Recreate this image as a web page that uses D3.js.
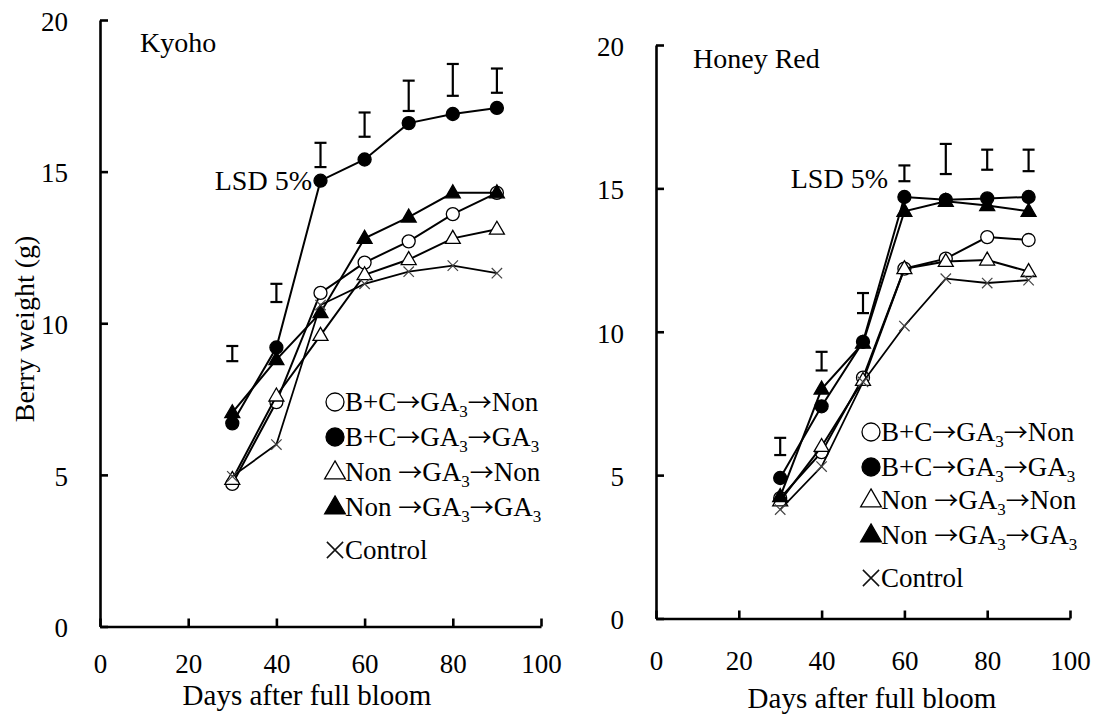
<!DOCTYPE html>
<html>
<head>
<meta charset="utf-8">
<script src="https://cdn.jsdelivr.net/npm/d3@7"></script>
<style>
  body { margin: 0; background: #fff; }
  svg { display: block; }
</style>
</head>
<body>
<svg id="chart" width="1096" height="716"></svg>
<script>
// days after full bloom
const days = [30, 40, 50, 60, 70, 80, 90];
const xTicks = [0, 20, 40, 60, 80, 100];
const yTicks = [0, 5, 10, 15, 20];

const seriesLabels = ["B+C→GA3→Non", "B+C→GA3→GA3", "Non →GA3→Non", "Non →GA3→GA3", "Control"];
const seriesMarkers = ["circleOpen", "circleFilled", "triOpen", "triFilled", "cross"];

// Kyoho berry weight (g)
const kyohoBcNon = [4.7, 7.4, 11.0, 12.0, 12.7, 13.6, 14.3];
const kyohoBcGa = [6.7, 9.2, 14.7, 15.4, 16.6, 16.9, 17.1];
const kyohoNonNon = [4.85, 7.6, 9.6, 11.6, 12.1, 12.8, 13.1];
const kyohoNonGa = [7.05, 8.8, 10.35, 12.8, 13.5, 14.3, 14.3];
const kyohoControl = [4.95, 6.0, 10.6, 11.3, 11.7, 11.9, 11.65];
const kyohoLsdLow = [8.75, 10.7, 15.15, 16.15, 17.0, 17.5, 17.6];
const kyohoLsdHigh = [9.25, 11.3, 15.95, 16.95, 18.0, 18.55, 18.4];

// Honey Red berry weight (g)
const honeyBcNon = [4.2, 5.8, 8.4, 12.2, 12.55, 13.3, 13.2];
const honeyBcGa = [4.9, 7.4, 9.65, 14.7, 14.6, 14.65, 14.7];
const honeyNonNon = [4.1, 6.0, 8.3, 12.2, 12.45, 12.5, 12.1];
const honeyNonGa = [4.25, 8.0, 9.6, 14.2, 14.55, 14.4, 14.2];
const honeyControl = [3.8, 5.3, 8.25, 10.2, 11.85, 11.7, 11.8];
const honeyLsdLow = [5.7, 8.65, 10.65, 15.25, 15.5, 15.65, 15.6];
const honeyLsdHigh = [6.3, 9.3, 11.35, 15.8, 16.55, 16.35, 16.35];

const SERIF = "Liberation Serif";
const ARROW = "Noto Sans CJK JP";
const svg = d3.select("#chart");

function markerPath(type, r) {
  if (type === "triOpen" || type === "triFilled") {
    const h = r * Math.sqrt(3);
    return `M0,${-h * 2 / 3}L${r},${h / 3}L${-r},${h / 3}Z`;
  }
  if (type === "cross") {
    return `M${-r},${-r}L${r},${r}M${-r},${r}L${r},${-r}`;
  }
  return null;
}

function drawMarker(g, type, x, y, size, legend) {
  if (type === "circleOpen" || type === "circleFilled") {
    g.append("circle")
      .attr("cx", x).attr("cy", y).attr("r", size)
      .attr("fill", type === "circleOpen" ? "#fff" : "#000")
      .attr("stroke", "#000").attr("stroke-width", 1.3);
  } else if (type === "cross") {
    g.append("path")
      .attr("transform", `translate(${x},${y})`)
      .attr("d", markerPath(type, size * (legend ? 0.9 : 0.8)))
      .attr("fill", "none")
      .attr("stroke", legend ? "#111" : "#444")
      .attr("stroke-width", legend ? 1.5 : 1.2);
  } else {
    g.append("path")
      .attr("transform", `translate(${x},${y + size * 0.1})`)
      .attr("d", markerPath(type, size * 1.15))
      .attr("fill", type === "triOpen" ? "#fff" : "#000")
      .attr("stroke", "#000").attr("stroke-width", 1.3);
  }
}

// legend text: arrows from a CJK font, the 3 after GA as subscript
function addLabel(textSel, label) {
  const tokens = label.split(/(→|(?<=GA)3)/).filter(t => t !== "");
  let lowered = false;
  tokens.forEach(tok => {
    const ts = textSel.append("tspan").text(tok);
    if (tok === "3") {
      ts.attr("font-size", 17).attr("dy", 6);
      lowered = true;
      return;
    }
    if (lowered) { ts.attr("dy", -6); lowered = false; }
    if (tok === "→") ts.style("font-family", ARROW).attr("font-size", 24);
  });
}

function drawPanel(cfg) {
  const g = svg.append("g");
  const x = d3.scaleLinear().domain([0, 100]).range([cfg.left, cfg.right]);
  const y = d3.scaleLinear().domain([0, 20]).range([cfg.bottom, cfg.top]);

  const xAxis = g.append("g")
    .attr("transform", `translate(0,${cfg.bottom})`)
    .call(d3.axisBottom(x).tickValues(xTicks).tickSizeInner(-8).tickSizeOuter(0).tickPadding(cfg.xPad));
  const yAxis = g.append("g")
    .attr("transform", `translate(${cfg.left},0)`)
    .call(d3.axisLeft(y).tickValues(yTicks).tickSizeInner(-8).tickSizeOuter(0).tickPadding(32));

  [xAxis, yAxis].forEach(a => {
    a.attr("font-size", 27);
    a.selectAll("path, line").attr("stroke", "#000").attr("stroke-width", 2.6);
    a.selectAll("text").attr("fill", "#000").style("font-family", SERIF);
  });
  yAxis.selectAll("text").attr("dy", "0.38em");

  // axis titles
  g.append("text")
    .attr("x", cfg.xTitleX).attr("y", cfg.xTitleY)
    .attr("text-anchor", "middle").attr("font-size", 29)
    .style("font-family", SERIF)
    .text("Days after full bloom");
  if (cfg.yTitle) {
    g.append("text")
      .attr("transform", `translate(34,329) rotate(-90)`)
      .attr("text-anchor", "middle").attr("font-size", 28)
      .style("font-family", SERIF)
      .text(cfg.yTitle);
  }

  g.append("text").attr("x", cfg.nameX).attr("y", cfg.nameY)
    .attr("font-size", 28).style("font-family", SERIF).text(cfg.name);
  g.append("text").attr("x", cfg.lsdX).attr("y", cfg.lsdY)
    .attr("text-anchor", "end").attr("font-size", 28).style("font-family", SERIF).text("LSD 5%");

  // LSD bars
  const bars = g.append("g").attr("stroke", "#000").attr("stroke-width", 2.2);
  days.forEach((d, i) => {
    const cx = x(d), y0 = y(cfg.lsdLow[i]), y1 = y(cfg.lsdHigh[i]);
    bars.append("line").attr("x1", cx).attr("x2", cx).attr("y1", y0).attr("y2", y1);
    bars.append("line").attr("x1", cx - 6).attr("x2", cx + 6).attr("y1", y0).attr("y2", y0);
    bars.append("line").attr("x1", cx - 6).attr("x2", cx + 6).attr("y1", y1).attr("y2", y1);
  });

  const line = d3.line().x((v, i) => x(days[i])).y(v => y(v));
  cfg.series.forEach((vals, s) => {
    g.append("path").datum(vals)
      .attr("d", line).attr("fill", "none")
      .attr("stroke", "#000").attr("stroke-width", s === 4 ? 1.8 : 2);
    const mg = g.append("g");
    vals.forEach((v, i) => drawMarker(mg, seriesMarkers[s], x(days[i]), y(v), 6.5, false));
  });

  // legend
  const lg = g.append("g");
  seriesLabels.forEach((lab, i) => {
    const cy = cfg.legendRows[i];
    drawMarker(lg, seriesMarkers[i], cfg.legendX, cy, 9, true);
    const t = lg.append("text").attr("x", cfg.legendX + 10).attr("y", cy + 9)
      .attr("font-size", 27).style("font-family", SERIF);
    addLabel(t, lab);
  });
}

drawPanel({
  name: "Kyoho", nameX: 140, nameY: 52,
  left: 100, right: 541, top: 20, bottom: 626.5,
  xPad: 27, xTitleX: 307, xTitleY: 705,
  yTitle: "Berry weight (g)",
  lsdX: 312, lsdY: 190,
  series: [kyohoBcNon, kyohoBcGa, kyohoNonNon, kyohoNonGa, kyohoControl],
  lsdLow: kyohoLsdLow, lsdHigh: kyohoLsdHigh,
  legendX: 335, legendRows: [402, 437, 472, 507, 550]
});

drawPanel({
  name: "Honey Red", nameX: 693, nameY: 68,
  left: 656, right: 1070, top: 45, bottom: 618.5,
  xPad: 32, xTitleX: 872, xTitleY: 708,
  yTitle: null,
  lsdX: 888, lsdY: 188,
  series: [honeyBcNon, honeyBcGa, honeyNonNon, honeyNonGa, honeyControl],
  lsdLow: honeyLsdLow, lsdHigh: honeyLsdHigh,
  legendX: 871, legendRows: [432, 467, 500, 535, 578]
});
</script>
</body>
</html>
